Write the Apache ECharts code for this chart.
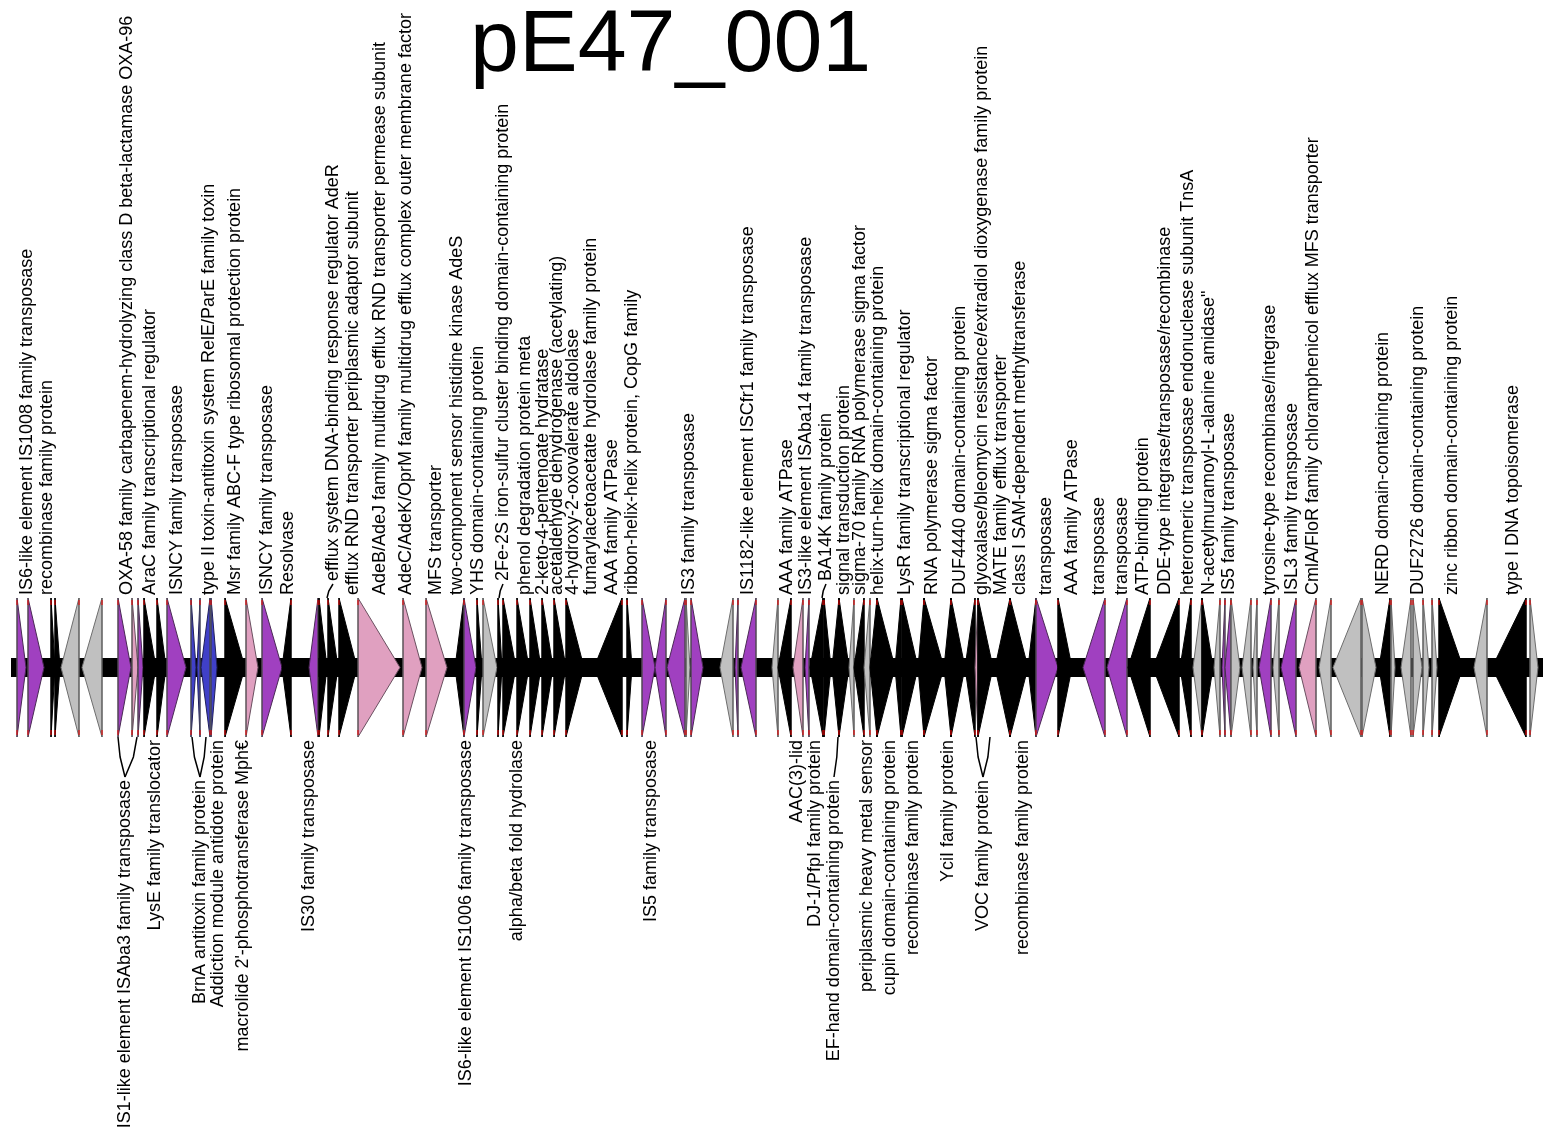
<!DOCTYPE html>
<html>
<head>
<meta charset="utf-8">
<title>pE47_001</title>
<script src="https://cdn.jsdelivr.net/npm/echarts@6/dist/echarts.min.js"></script>
<style>
  html, body { margin: 0; padding: 0; background: #fff; }
  #chart { width: 1543px; height: 1134px; }
</style>
</head>
<body>
<div id="chart"></div>
<script>
// gene map of pE47_001 : positions along the plasmid in plot units
const geneStart = [17, 28, 51, 55, 61, 82, 118, 132, 138, 144, 157, 167, 191, 197, 201, 211, 225, 246, 262, 282,
  309, 319, 328, 339, 358, 403, 426, 455, 464, 477, 483, 498, 503, 517, 530, 542, 554, 566, 594, 627,
  642, 655, 667, 686, 691, 720, 735, 741, 772, 778, 793, 805, 810, 824, 832, 839, 849, 854, 864, 870,
  877, 895, 902, 918, 924, 944, 951, 965, 975, 978, 995, 1010, 1028, 1036, 1058, 1083, 1107, 1128, 1153, 1180,
  1193, 1202, 1214, 1222, 1225, 1231, 1242, 1253, 1259, 1273, 1281, 1299, 1319, 1333, 1362, 1379, 1391, 1401, 1413, 1423,
  1432, 1439, 1474, 1492, 1530];
const geneEnd = [26, 44, 55, 60, 79, 102, 131, 138, 143, 156, 166, 186, 196, 200, 210, 217, 245, 258, 282, 291,
  318, 327, 338, 357, 400, 422, 447, 464, 476, 482, 497, 502, 516, 529, 541, 553, 566, 584, 622, 632,
  655, 666, 685, 690, 703, 733, 738, 756, 778, 791, 803, 809, 823, 831, 839, 849, 854, 864, 870, 877,
  895, 901, 918, 924, 944, 951, 965, 975, 978, 993, 1010, 1028, 1036, 1058, 1072, 1105, 1127, 1150, 1179, 1191,
  1202, 1213, 1220, 1225, 1231, 1240, 1251, 1257, 1271, 1279, 1296, 1316, 1331, 1361, 1376, 1390, 1395, 1411, 1422, 1429,
  1437, 1463, 1487, 1526, 1538];
// 1 = forward, -1 = reverse
const geneStrand = [1, 1, 1, 1, -1, -1, 1, 1, 1, 1, 1, 1, 1, -1, -1, 1, 1, 1, 1, -1,
  -1, 1, 1, 1, 1, 1, 1, -1, 1, 1, 1, 1, 1, 1, 1, 1, 1, 1, -1, 1,
  1, -1, -1, 1, 1, -1, -1, -1, -1, -1, -1, -1, -1, 1, -1, 1, -1, -1, -1, -1,
  1, -1, 1, -1, 1, -1, 1, -1, -1, 1, -1, 1, -1, 1, 1, -1, -1, -1, -1, -1,
  -1, 1, -1, -1, -1, 1, -1, -1, -1, -1, -1, -1, -1, -1, 1, -1, 1, -1, 1, 1,
  1, 1, -1, -1, 1];
// P transposase-like (purple), K pink, G hypothetical (grey), B other (black), U blue
const geneKind = ['P', 'P', 'B', 'B', 'G', 'G', 'P', 'K', 'P', 'B', 'B', 'P', 'U', 'U', 'U', 'U', 'B', 'K', 'P', 'B',
  'P', 'B', 'B', 'B', 'K', 'K', 'K', 'B', 'P', 'B', 'G', 'B', 'B', 'B', 'B', 'B', 'B', 'B', 'B', 'B',
  'P', 'P', 'P', 'G', 'P', 'G', 'P', 'P', 'G', 'B', 'K', 'P', 'B', 'B', 'B', 'B', 'G', 'B', 'G', 'B',
  'B', 'B', 'B', 'B', 'B', 'B', 'B', 'B', 'K', 'B', 'B', 'B', 'B', 'P', 'B', 'P', 'P', 'B', 'B', 'B',
  'G', 'B', 'G', 'P', 'P', 'G', 'G', 'G', 'P', 'G', 'P', 'K', 'G', 'G', 'G', 'B', 'G', 'G', 'G', 'G',
  'G', 'B', 'G', 'B', 'G'];
const backbone = [11, 1543];

const topLabelPos = [27, 47, 127, 150, 177, 209, 235, 267, 288, 333, 353, 380, 406, 436, 457, 478, 503, 525, 543, 557,
  573, 591, 612, 632, 689, 748, 787, 806, 826, 844, 860, 878, 905, 932, 960, 982, 1001, 1020, 1046, 1072,
  1099, 1122, 1143, 1165, 1188, 1209, 1229, 1270, 1292, 1313, 1383, 1418, 1452, 1513];
const topLabelText = [
  'IS6-like element IS1008 family transposase',
  'recombinase family protein',
  'OXA-58 family carbapenem-hydrolyzing class D beta-lactamase OXA-96',
  'AraC family transcriptional regulator',
  'ISNCY family transposase',
  'type II toxin-antitoxin system RelE/ParE family toxin',
  'Msr family ABC-F type ribosomal protection protein',
  'ISNCY family transposase',
  'Resolvase',
  'efflux system DNA-binding response regulator AdeR',
  'efflux RND transporter periplasmic adaptor subunit',
  'AdeB/AdeJ family multidrug efflux RND transporter permease subunit',
  'AdeC/AdeK/OprM family multidrug efflux complex outer membrane factor',
  'MFS transporter',
  'two-component sensor histidine kinase AdeS',
  'YHS domain-containing protein',
  '2Fe-2S iron-sulfur cluster binding domain-containing protein',
  'phenol degradation protein meta',
  '2-keto-4-pentenoate hydratase',
  'acetaldehyde dehydrogenase (acetylating)',
  '4-hydroxy-2-oxovalerate aldolase',
  'fumarylacetoacetate hydrolase family protein',
  'AAA family ATPase',
  'ribbon-helix-helix protein, CopG family',
  'IS3 family transposase',
  'IS1182-like element ISCfr1 family transposase',
  'AAA family ATPase',
  'IS3-like element ISAba14 family transposase',
  'BA14K family protein',
  'signal transduction protein',
  'sigma-70 family RNA polymerase sigma factor',
  'helix-turn-helix domain-containing protein',
  'LysR family transcriptional regulator',
  'RNA polymerase sigma factor',
  'DUF4440 domain-containing protein',
  'glyoxalase/bleomycin resistance/extradiol dioxygenase family protein',
  'MATE family efflux transporter',
  'class I SAM-dependent methyltransferase',
  'transposase',
  'AAA family ATPase',
  'transposase',
  'transposase',
  'ATP-binding protein',
  'DDE-type integrase/transposase/recombinase',
  'heteromeric transposase endonuclease subunit TnsA',
  'N-acetylmuramoyl-L-alanine amidase"',
  'IS5 family transposase',
  'tyrosine-type recombinase/integrase',
  'ISL3 family transposase',
  'CmlA/FloR family chloramphenicol efflux MFS transporter',
  'NERD domain-containing protein',
  'DUF2726 domain-containing protein',
  'zinc ribbon domain-containing protein',
  'type I DNA topoisomerase'
];
// label index -> gene positions it is linked to when shifted
const topLabelLinks = { 9: [327], 16: [499], 28: [822] };

const bottomLabelPos = [125, 155, 200, 218, 243, 309, 466, 517, 651, 797, 815, 834, 867, 890, 913, 948, 983, 1023];
const bottomLabelText = [
  'IS1-like element ISAba3 family transposase',
  'LysE family translocator',
  'BrnA antitoxin family protein',
  'Addiction module antidote protein',
  "macrolide 2'-phosphotransferase Mph\u20ac",
  'IS30 family transposase',
  'IS6-like element IS1006 family transposase',
  'alpha/beta fold hydrolase',
  'IS5 family transposase',
  'AAC(3)-lid',
  'DJ-1/PfpI family protein',
  'EF-hand domain-containing protein',
  'periplasmic heavy metal sensor',
  'cupin domain-containing protein',
  'recombinase family protein',
  'YciI family protein',
  'VOC family protein',
  'recombinase family protein'
];
const bottomLabelLinks = { 0: [118, 137], 2: [192, 206], 11: [838], 16: [976, 990] };

const kindColor = { P: '#a040c0', K: '#e0a0c0', G: '#c0c0c0', B: '#000000', U: '#4040c8' };
const kindEdge = { P: '#4a2a55', K: '#6a5060', G: '#6e6e6e', B: '#000000', U: '#20205a' };
const labelFont = '18px "Liberation Sans", Arial, sans-serif';

const chart = echarts.init(document.getElementById('chart'));

function renderGene(params, api) {
  const i = params.dataIndex;
  const xs = api.coord([api.value(0), 0])[0];
  const xe = api.coord([api.value(1), 0])[0];
  const yt = api.coord([0, 1])[1];
  const yb = api.coord([0, -1])[1];
  const ym = api.coord([0, 0])[1];
  const fwd = api.value(2) > 0;
  const k = geneKind[i];
  const pts = fwd ? [[xs, yt], [xs, yb], [xe, ym]] : [[xe, yt], [xe, yb], [xs, ym]];
  const bx = fwd ? xs : xe;
  return {
    type: 'group',
    children: [
      { type: 'polygon', shape: { points: pts }, style: { fill: kindColor[k], stroke: kindEdge[k], lineWidth: 1 } },
      { type: 'line', shape: { x1: bx, y1: yt, x2: bx, y2: yb }, style: { stroke: k === 'B' ? '#000' : '#555', lineWidth: 1 } },
      { type: 'line', shape: { x1: bx, y1: yt + 2, x2: bx, y2: yt + 7 }, style: { stroke: '#ff0000', lineWidth: 1 } },
      { type: 'line', shape: { x1: bx, y1: yb - 7, x2: bx, y2: yb - 2 }, style: { stroke: '#ff0000', lineWidth: 1 } }
    ]
  };
}

function renderBackbone(params, api) {
  const x1 = api.coord([api.value(0), 0])[0];
  const x2 = api.coord([api.value(1), 0])[0];
  const y1 = api.coord([0, 0.137])[1];
  const y2 = api.coord([0, -0.137])[1];
  return { type: 'rect', shape: { x: x1, y: y1, width: x2 - x1, height: y2 - y1 }, style: { fill: '#000' } };
}

function makeLabelRenderer(side) {
  const texts = side === 'top' ? topLabelText : bottomLabelText;
  const links = side === 'top' ? topLabelLinks : bottomLabelLinks;
  return function (params, api) {
    const i = params.dataIndex;
    const x = api.coord([api.value(0), 0])[0];
    const edge = api.coord([0, side === 'top' ? 1 : -1])[1];
    const dir = side === 'top' ? -1 : 1;
    const children = [];
    let start = edge + dir * 3;
    if (links[i]) {
      const drop = side === 'top' ? 14 : 40;
      links[i].forEach(function (g) {
        const gx = api.coord([g, 0])[0];
        children.push({
          type: 'polyline',
          shape: { points: [[gx, edge], [gx + (x - gx) * 0.3, edge + dir * drop * 0.5], [x, edge + dir * drop]] },
          style: { stroke: '#000', lineWidth: 1.5, fill: null }
        });
      });
      start = edge + dir * (drop + 3);
    }
    children.push({
      type: 'text',
      x: x,
      y: start,
      rotation: Math.PI / 2,
      style: {
        text: texts[i],
        x: 0,
        y: 0,
        align: side === 'top' ? 'left' : 'right',
        verticalAlign: 'middle',
        font: labelFont,
        fill: '#000'
      }
    });
    return { type: 'group', children: children };
  };
}

chart.setOption({
  animation: false,
  backgroundColor: '#fff',
  title: {
    text: 'pE47_001',
    left: 465,
    top: -2,
    textStyle: { fontSize: 88, fontWeight: 'normal', color: '#000', fontFamily: '"Liberation Sans", Arial, sans-serif' }
  },
  grid: { left: 0, right: 0, top: 598, bottom: 397 },
  xAxis: { type: 'value', min: 0, max: 1543, show: false },
  yAxis: { type: 'value', min: -1, max: 1, show: false },
  series: [
    {
      type: 'custom',
      renderItem: renderBackbone,
      data: [backbone],
      encode: { x: [0, 1] },
      z: 1
    },
    {
      type: 'custom',
      renderItem: renderGene,
      data: geneStart.map(function (s, i) { return [s, geneEnd[i], geneStrand[i]]; }),
      encode: { x: [0, 1] },
      z: 2
    },
    {
      type: 'custom',
      renderItem: makeLabelRenderer('top'),
      data: topLabelPos.map(function (p, i) { return [p, i]; }),
      encode: { x: 0 },
      z: 3
    },
    {
      type: 'custom',
      renderItem: makeLabelRenderer('bottom'),
      data: bottomLabelPos.map(function (p, i) { return [p, i]; }),
      encode: { x: 0 },
      z: 3
    }
  ]
});
</script>
</body>
</html>
